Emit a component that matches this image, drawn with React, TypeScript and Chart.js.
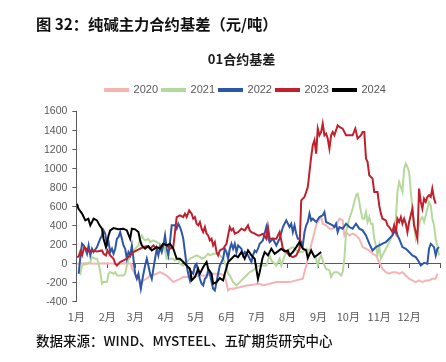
import React, { useEffect, useRef } from "react";
import { Chart, registerables } from "chart.js";

Chart.register(...registerables);

const chartTitle = "01合约基差";
const figureTitle = "图 32：纯碱主力合约基差（元/吨）";
const sourceNote = "数据来源：WIND、MYSTEEL、五矿期货研究中心";

const monthLabels = ["1月", "2月", "3月", "4月", "5月", "6月", "7月", "8月", "9月", "10月", "11月", "12月"];
const monthStartDays = [0, 31, 59, 90, 120, 151, 181, 212, 243, 273, 304, 334];
const yearEndDay = 365;

const seriesNames = ["2020", "2021", "2022", "2023", "2024"];
const seriesColors = ["#F4B4B4", "#B5D99C", "#2E56A6", "#C0202C", "#000000"];

const days2020 = [0.7, 10, 20, 30, 40, 50, 55, 55.7, 59, 62.3, 65.7, 67.3, 70.7, 74, 77.3, 80.7, 84, 87.3, 90.7, 94, 97.3, 100.7, 104, 107.3, 110.7, 117.3, 124, 130.7, 137.3, 144, 149, 152.3, 154, 157.3, 164, 170.7, 177.3, 184, 187, 194, 200.7, 207.3, 214, 220.7, 227.3, 230.7, 234, 237.3, 240.7, 244, 245.7, 247.3, 250.7, 254, 257.3, 260.7, 264, 267.3, 269, 270.7, 274, 277.3, 280.7, 284, 287.3, 290.7, 294, 297.3, 300.7, 304, 307.3, 310.7, 314, 317.3, 320.7, 324, 327.3, 330.7, 334, 337.3, 340.7, 344, 347.3, 350.7, 354, 357.3, 360.7, 362.3];
const vals2020 = [0, 5, 0, 5, 0, 5, 0, -53, -105, -158, -193, -175, -158, -123, -116, -105, -88, -105, -123, -158, -193, -175, -158, -140, -140, -140, -123, -123, -105, -105, -123, -281, -263, -263, -246, -228, -221, -210, -228, -210, -193, -193, -193, -175, -158, -18, 123, 263, 404, 474, 491, 421, 404, 369, 369, 404, 474, 456, 298, 333, 298, 316, 298, 263, 175, 158, 140, 105, 88, 18, -53, -88, -105, -88, -88, -105, -88, -123, -158, -175, -193, -175, -193, -175, -175, -158, -158, -105];

const days2021 = [2.3, 4, 5.7, 7.3, 10.7, 14, 15.7, 19, 20.7, 22.3, 24, 25.7, 27.3, 30.7, 32.3, 34, 37.3, 39, 40.7, 44, 47.3, 49, 50.7, 52.3, 54, 57.3, 59, 62.3, 64, 65.7, 67.3, 69, 72.3, 74, 77.3, 80.7, 84, 85.7, 87.3, 89, 90.7, 94, 97.3, 99, 102.3, 104, 107.3, 110.7, 114, 117.3, 120.7, 124, 125.7, 129, 130.7, 132.3, 134, 137.3, 140.7, 144, 147.3, 150.7, 152.3, 154, 155.7, 157.3, 160.7, 164, 167.3, 170.7, 174, 177.3, 180.7, 184, 187.3, 190.7, 192.3, 194, 195.7, 197.3, 200.7, 204, 205.7, 207.3, 210.7, 214, 217.3, 220.7, 224, 227.3, 230.7, 234, 237.3, 240.7, 242.3, 244, 245.7, 247.3, 249, 250.7, 254, 255.7, 257.3, 259, 262.3, 264, 265.7, 267.3, 269, 270.7, 272.3, 274, 277.3, 280.7, 282.3, 284, 285.7, 287.3, 289, 290.7, 292.3, 294, 295.7, 297.3, 299, 300.7, 302.3, 304, 305.7, 307.3, 309, 310.7, 312.3, 314, 315.7, 317.3, 319, 320.7, 322.3, 324, 325.7, 327.3, 329, 330.7, 332.3, 334, 335.7, 337.3, 339, 340.7, 342.3, 344, 345.7, 347.3, 349, 350.7, 352.3, 354, 355.7, 357.3, 359, 360.7, 362.3, 364];
const vals2021 = [-88, -105, -18, -10, 0, 18, 70, 53, 53, 0, -88, -210, -193, -193, -105, -88, -105, -88, -123, -123, -123, -105, -18, 35, 88, 123, 158, 193, 263, 298, 263, 246, 263, 228, 246, 228, 210, 193, 193, 140, 53, 53, 53, 35, 53, 0, -18, 18, 53, 70, 88, 70, 53, 70, 88, 105, 88, 105, 105, 88, 53, -35, -105, -123, -158, -193, -228, -193, -158, -123, -88, -70, -35, -18, -18, -18, 35, 88, 35, 18, -18, 53, -18, 35, 123, 158, 175, 140, 123, 123, 158, 140, 105, 53, -18, 53, 88, 35, -18, -53, -70, -140, -105, -88, -88, -105, -123, -88, 53, 333, 404, 474, 579, 720, 737, 650, 544, 474, 474, 544, 439, 491, 421, 421, 263, 193, 88, 193, 53, 88, 123, 158, 193, 228, 263, 333, 404, 474, 755, 860, 807, 755, 1000, 1053, 1018, 965, 755, 579, 404, 263, 333, 404, 474, 491, 439, 509, 579, 650, 614, 474, 404, 263, 193, 88];

const days2022 = [2.3, 4, 5.7, 7.3, 9, 10.7, 12.3, 14, 15.7, 17.3, 20.7, 24, 25.7, 27.3, 29, 30.7, 32.3, 34, 35.7, 37.3, 39, 40.7, 42.3, 44, 45.7, 47.3, 49, 50.7, 52.3, 54, 55.7, 57.3, 59, 60.7, 62.3, 64.7, 66.7, 69, 70.7, 72.3, 74, 75.7, 77.3, 79, 80.7, 82.3, 84, 85.7, 87.3, 89, 90.7, 92.3, 94, 95.7, 97.3, 99, 100.7, 102.3, 104, 105.7, 107.3, 109, 110.7, 112.3, 114, 115.7, 117.3, 119, 120.7, 122.3, 124, 125.7, 127.3, 129, 130.7, 132.3, 134, 135.7, 137.3, 139, 140.7, 142.3, 144, 147.3, 149, 150.7, 152.3, 154, 155.7, 157.3, 159, 160.7, 162.3, 165.7, 167.3, 169, 172.3, 174, 175.7, 177.3, 179, 180.7, 182.3, 184, 187.3, 190.7, 192.3, 194, 197.3, 200.7, 204, 207.3, 210.7, 214, 215.7, 217.3, 219, 220.7, 222.3, 224, 227.3, 229, 230.7, 232.3, 234, 235.7, 237.3, 240.7, 244, 247.3, 249, 250.7, 254, 257.3, 259, 260.7, 262.3, 264, 267.3, 270.7, 274, 277.3, 280.7, 284, 287.3, 290.7, 294, 297.3, 300.7, 304, 307.3, 310.7, 314, 317.3, 320.7, 322.3, 324, 327.3, 330.7, 334, 337.3, 340.7, 344, 345.7, 349, 352.3, 354, 355.7, 357.3, 359, 360.7, 362.3, 364];
const vals2022 = [-105, 70, 210, 193, 158, 105, 193, 88, 158, 123, 175, 263, 298, 351, 316, 193, 228, 123, 158, 105, 158, 263, 281, 333, 263, 193, 158, 53, 123, 88, 193, 53, -105, -158, -105, -263, -140, -18, 53, -18, -105, -158, -53, 53, 158, 88, 175, 123, 193, 298, 158, 88, 228, 404, 404, 404, 369, 421, 386, 333, 263, 123, -18, -105, -175, -88, -105, -18, 0, -88, -158, -210, -228, -158, -140, -70, -105, -193, -263, -281, -193, -105, -18, 53, 158, 123, 53, 158, 210, 158, 210, 123, 193, 158, 88, 123, 88, 53, 18, 88, 140, 123, 158, 210, 246, 386, 281, 228, 263, 193, 263, 386, 456, 386, 421, 333, 404, 316, 263, 263, 193, 333, 404, 439, 527, 456, 474, 439, 491, 509, 544, 439, 421, 404, 386, 421, 333, 386, 369, 421, 386, 369, 421, 369, 351, 298, 211, 140, 175, 193, 211, 228, 263, 298, 368, 298, 263, 175, 158, 123, 88, 70, 18, -18, 10, 0, 158, 210, 193, 175, 88, 158, 175];

const days2023 = [0.7, 2.3, 4, 5.7, 8, 10, 12.3, 15.7, 20.7, 25.7, 27.3, 29.7, 31.3, 34, 35.7, 37.3, 39, 40.7, 44, 47.3, 50.7, 54, 57.3, 60.7, 64, 67.3, 70.7, 74, 77.3, 80.7, 84, 87.3, 90.7, 94, 97.3, 99, 100.7, 104, 107.3, 109, 110.7, 113.3, 115.7, 117.3, 119, 120.7, 122.3, 124, 125.7, 127.3, 129, 130.7, 132.3, 134, 135.7, 137.3, 139, 140.7, 142.3, 144, 147.3, 150.7, 152.3, 154, 155.7, 157.3, 159, 162.3, 165.7, 169, 172.3, 174, 175.7, 179, 182.3, 184, 187.3, 190.7, 192.3, 194, 197.3, 200.7, 204, 205.7, 207.3, 210.7, 214, 217.3, 220.7, 224, 225.7, 229, 232.3, 234, 235.7, 237.3, 239, 240.7, 242.3, 244, 245.7, 247.3, 249, 250.7, 252.3, 254, 255.7, 257.3, 259, 260.7, 262.3, 264, 267.3, 270.7, 274, 277.3, 280, 282.3, 285.7, 287.3, 289, 290.7, 292.3, 294, 297.3, 299, 302.3, 304, 305.7, 307.3, 310.7, 312.3, 314, 317.3, 319, 320.7, 322.3, 324, 325.7, 327.3, 329, 330.7, 332.3, 334, 337.3, 339, 340.7, 342.3, 344, 345.7, 347.3, 349, 350.7, 352.3, 354, 355.7, 357.3, 359, 360.7];
const vals2023 = [70, 77, 130, 88, 175, 158, 130, 140, 130, 140, 105, 88, 140, 88, 70, 53, 0, -18, 18, 35, 53, 88, 123, 140, 158, 175, 186, 158, 193, 158, 175, 210, 200, 158, 175, 333, 491, 509, 491, 527, 491, 562, 527, 474, 491, 421, 404, 439, 369, 333, 386, 316, 298, 246, 263, 193, 228, 123, 88, 140, 158, 210, 298, 386, 351, 369, 316, 333, 369, 351, 404, 351, 333, 316, 298, 298, 316, 263, 386, 263, 263, 263, 333, 246, 158, 123, 88, 70, 88, 158, 667, 702, 807, 965, 1123, 1246, 1299, 1158, 1421, 1351, 1386, 1474, 1351, 1369, 1316, 1211, 1351, 1386, 1351, 1404, 1456, 1439, 1421, 1351, 1351, 1351, 1421, 1316, 1351, 1386, 1386, 1106, 1071, 930, 895, 755, 755, 614, 527, 474, 456, 404, 386, 333, 404, 333, 474, 439, 491, 421, 474, 421, 333, 439, 579, 404, 333, 263, 790, 650, 579, 685, 650, 702, 720, 702, 790, 685, 632];

const days2024 = [0.7, 2, 5.7, 9, 12, 14, 17.3, 20.7, 23.3, 25.7, 27.3, 29.7, 32.3, 34, 37.3, 42, 47.3, 50.7, 54, 55.7, 59, 62.3, 64, 65.7, 69, 72.3, 75.7, 80.7, 84, 87.3, 90.7, 94, 97.3, 100.7, 104, 107.3, 110.7, 114, 115.7, 119, 122.3, 124, 127.3, 130.7, 132.3, 135.7, 137.3, 140.7, 144, 147.3, 149, 152.3, 155.7, 159, 162.3, 165.7, 169, 172.3, 175.7, 179, 182.3, 184, 186.7, 189, 192.3, 195.7, 199, 202.3, 205.7, 209, 212.3, 214, 217.3, 220.7, 224, 227.3, 230.7, 232.3, 235.7, 239, 242.3, 245.7];
const vals2024 = [632, 580, 527, 456, 474, 404, 474, 456, 404, 369, 263, 175, 298, 351, 375, 362, 369, 351, 263, 369, 362, 333, 246, 193, 158, 186, 140, 175, 158, 210, 193, 210, 158, 53, 53, 18, -18, -53, -175, -140, -53, -105, -35, 18, -53, -105, -210, -193, -151, -175, -105, 18, 53, 88, 70, 123, 53, 140, 88, 53, -160, -88, 53, 123, 88, 158, 105, 130, 158, 130, 140, 88, 123, 175, 228, 158, 140, 60, 140, 70, 95, 123];

const seriesDays = [days2020, days2021, days2022, days2023, days2024];
const seriesVals = [vals2020, vals2021, vals2022, vals2023, vals2024];

const yMin = -400;
const yMax = 1600;
const yStep = 200;

const FONT = '"Liberation Sans", "Noto Sans CJK SC", sans-serif';
const CJK = '"Noto Sans CJK SC", "Liberation Sans", sans-serif';
const AXIS_COLOR = "#595959";

const LEGEND_EXTRA_BOTTOM = 6;
const LEGEND_SHIFT_X = 6;
const TITLE_SHIFT_X = 2;

const layoutTweak = {
  id: "layoutTweak",
  beforeLayout(chart: any) {
    const lg = chart.legend;
    if (lg && !lg.__patched) {
      const origFit = lg.fit.bind(lg);
      lg.fit = function () {
        origFit();
        this.height += LEGEND_EXTRA_BOTTOM;
      };
      lg.__patched = true;
    }
  },
  afterLayout(chart: any) {
    const lg = chart.legend;
    if (lg) {
      lg.left += LEGEND_SHIFT_X;
      lg.right += LEGEND_SHIFT_X;
    }
    const tb = chart.titleBlock;
    if (tb) {
      tb.left += TITLE_SHIFT_X;
      tb.right += TITLE_SHIFT_X;
    }
  },
};

export default function App() {
  const canvasRef = useRef<HTMLCanvasElement | null>(null);

  useEffect(() => {
    if (!canvasRef.current) return;
    Chart.defaults.font.family = FONT;
    const datasets = seriesNames.map((name, i) => ({
      label: name,
      data: seriesDays[i].map((d, j) => ({ x: d, y: seriesVals[i][j] })),
      borderColor: seriesColors[i],
      backgroundColor: seriesColors[i],
      borderWidth: 2,
      pointRadius: 0,
      tension: 0,
      order: seriesNames.length - i,
      xAxisID: "x",
      yAxisID: "y",
    }));
    const chart = new Chart(canvasRef.current, {
      type: "line",
      data: { datasets },
      plugins: [layoutTweak],
      options: {
        animation: false,
        responsive: false,
        maintainAspectRatio: false,
        layout: { padding: { top: 51, left: 39, right: 6, bottom: 31 } },
        plugins: {
          title: {
            display: true,
            text: chartTitle,
            color: "#1a1a1a",
            font: { size: 13, weight: "bold", family: CJK },
            padding: { top: 0, bottom: 14 },
          },
          legend: {
            display: true,
            position: "top",
            labels: {
              boxWidth: 23,
              boxHeight: 2,
              padding: 4,
              color: AXIS_COLOR,
              font: { size: 11 },
              sort: (a: any, b: any) => a.datasetIndex - b.datasetIndex,
            },
          },
          tooltip: { enabled: false },
        },
        scales: {
          x: {
            type: "linear",
            min: 0,
            max: yearEndDay,
            position: { y: 0 } as any,
            afterBuildTicks: (axis: any) => {
              axis.ticks = [...monthStartDays, yearEndDay].map((v) => ({ value: v }));
            },
            ticks: { display: false },
            grid: { drawOnChartArea: false, drawTicks: true, tickLength: 4, color: AXIS_COLOR },
            border: { display: true, color: AXIS_COLOR, width: 1 },
          },
          x2: {
            type: "linear",
            min: 0,
            max: yearEndDay,
            position: "bottom",
            afterBuildTicks: (axis: any) => {
              axis.ticks = monthStartDays.map((v) => ({ value: v }));
            },
            ticks: {
              autoSkip: false,
              maxRotation: 0,
              padding: 8,
              color: AXIS_COLOR,
              font: { size: 11, family: CJK },
              callback: (value: any) => {
                const idx = monthStartDays.indexOf(Number(value));
                return idx >= 0 ? monthLabels[idx] : "";
              },
            },
            grid: { display: false, drawTicks: false },
            border: { display: false },
          },
          y: {
            type: "linear",
            min: yMin,
            max: yMax,
            position: "left",
            ticks: {
              stepSize: yStep,
              padding: 5,
              color: AXIS_COLOR,
              font: { size: 10.5 },
              callback: (value: any) => String(value),
            },
            grid: { drawOnChartArea: false, drawTicks: true, tickLength: 4, color: AXIS_COLOR },
            border: { display: true, color: AXIS_COLOR, width: 1 },
          },
        },
      } as any,
    });
    return () => chart.destroy();
  }, []);

  return (
    <div style={{ position: "absolute", left: 0, top: 0, width: 446, height: 362, background: "#fff", overflow: "hidden" }}>
      <canvas ref={canvasRef} width={446} height={362} style={{ position: "absolute", left: 0, top: 0, width: 446, height: 362 }} />
      <div style={{ position: "absolute", left: 36, top: 13, fontFamily: CJK, fontWeight: 700, fontSize: 15.3, color: "#111", whiteSpace: "nowrap", lineHeight: "20px" }}>
        {figureTitle}
      </div>
      <div style={{ position: "absolute", left: 36, top: 330, fontFamily: CJK, fontWeight: 500, fontSize: 13.5, color: "#111", whiteSpace: "nowrap", lineHeight: "20px" }}>
        {sourceNote}
      </div>
    </div>
  );
}
